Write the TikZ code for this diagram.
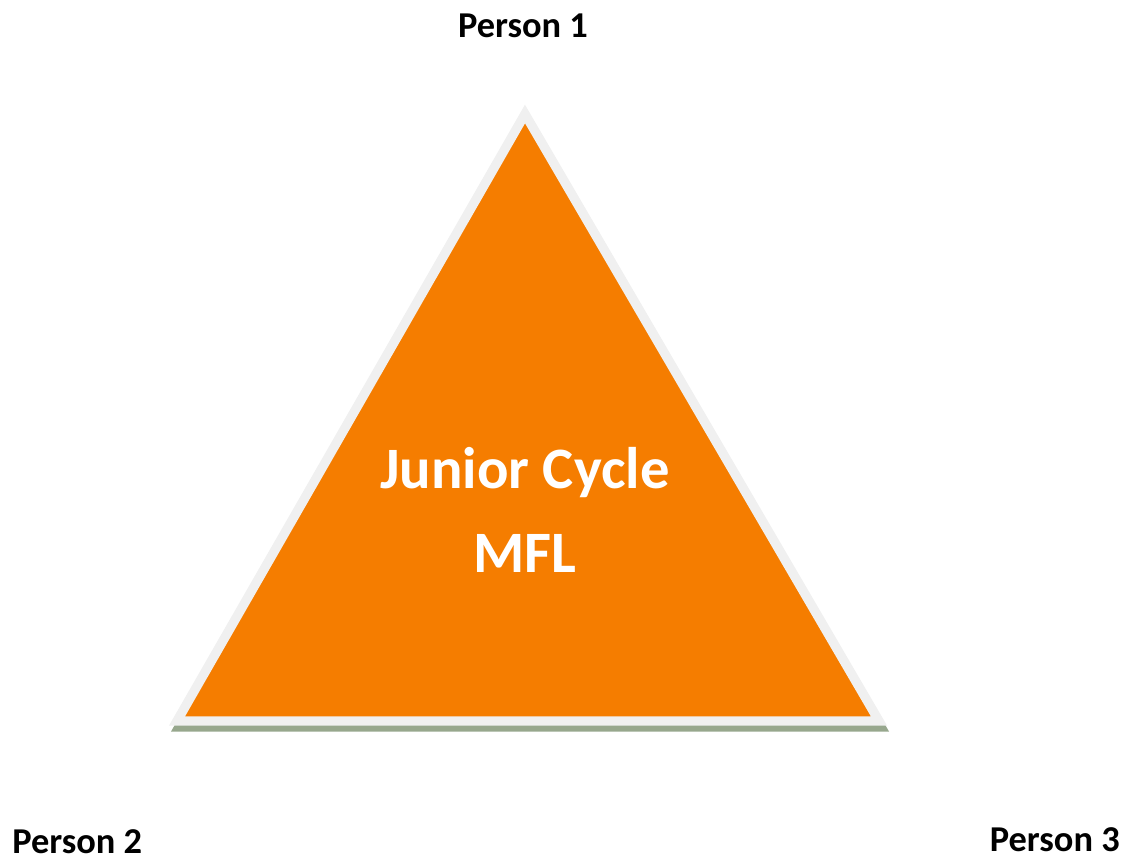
\documentclass[tikz,border=0pt]{standalone}
\usepackage{fontspec}
\setmainfont{Carlito}
\usepackage{xcolor}
\definecolor{triorange}{RGB}{245,125,0}
\definecolor{triborder}{RGB}{240,240,240}
\definecolor{trishadow}{RGB}{151,167,141}

\begin{document}
\begin{tikzpicture}
[x=0.75pt, y=-0.75pt,
% The person style is used for the names at the corners
person/.style={inner sep=0pt, font=\bfseries\fontsize{27.3}{32}\selectfont},
% The title style is used for the text inside the triangle
title/.style={inner sep=0pt, align=center, text=white, font=\bfseries\fontsize{44}{63}\selectfont},
% The tri style is used to draw the triangle
tri/.style={line width=7pt, line join=miter}
]
\useasboundingbox (0,0) rectangle (1133,863);
% Corners of the triangle
\coordinate (top) at (525,114);
\coordinate (left) at (177,721);
\coordinate (right) at (879,721);
% Draw shadow and triangle
\draw[tri, draw=trishadow, fill=trishadow] ([shift={(2,6)}]top) -- ([shift={(2,6)}]left) -- ([shift={(2,6)}]right) -- cycle;
\draw[tri, draw=triborder, fill=triorange] (top) -- (left) -- (right) -- cycle;
% Draw texts
\node[title, anchor=base] (jc) at (525,572) {Junior Cycle\\MFL};
\node[person, anchor=base] (p1) at (523,38) {Person 1};
\node[person, anchor=base west] (p2) at (12,853) {Person 2};
\node[person, anchor=base east] (p3) at (1120,851) {Person 3};
\end{tikzpicture}
\end{document}
